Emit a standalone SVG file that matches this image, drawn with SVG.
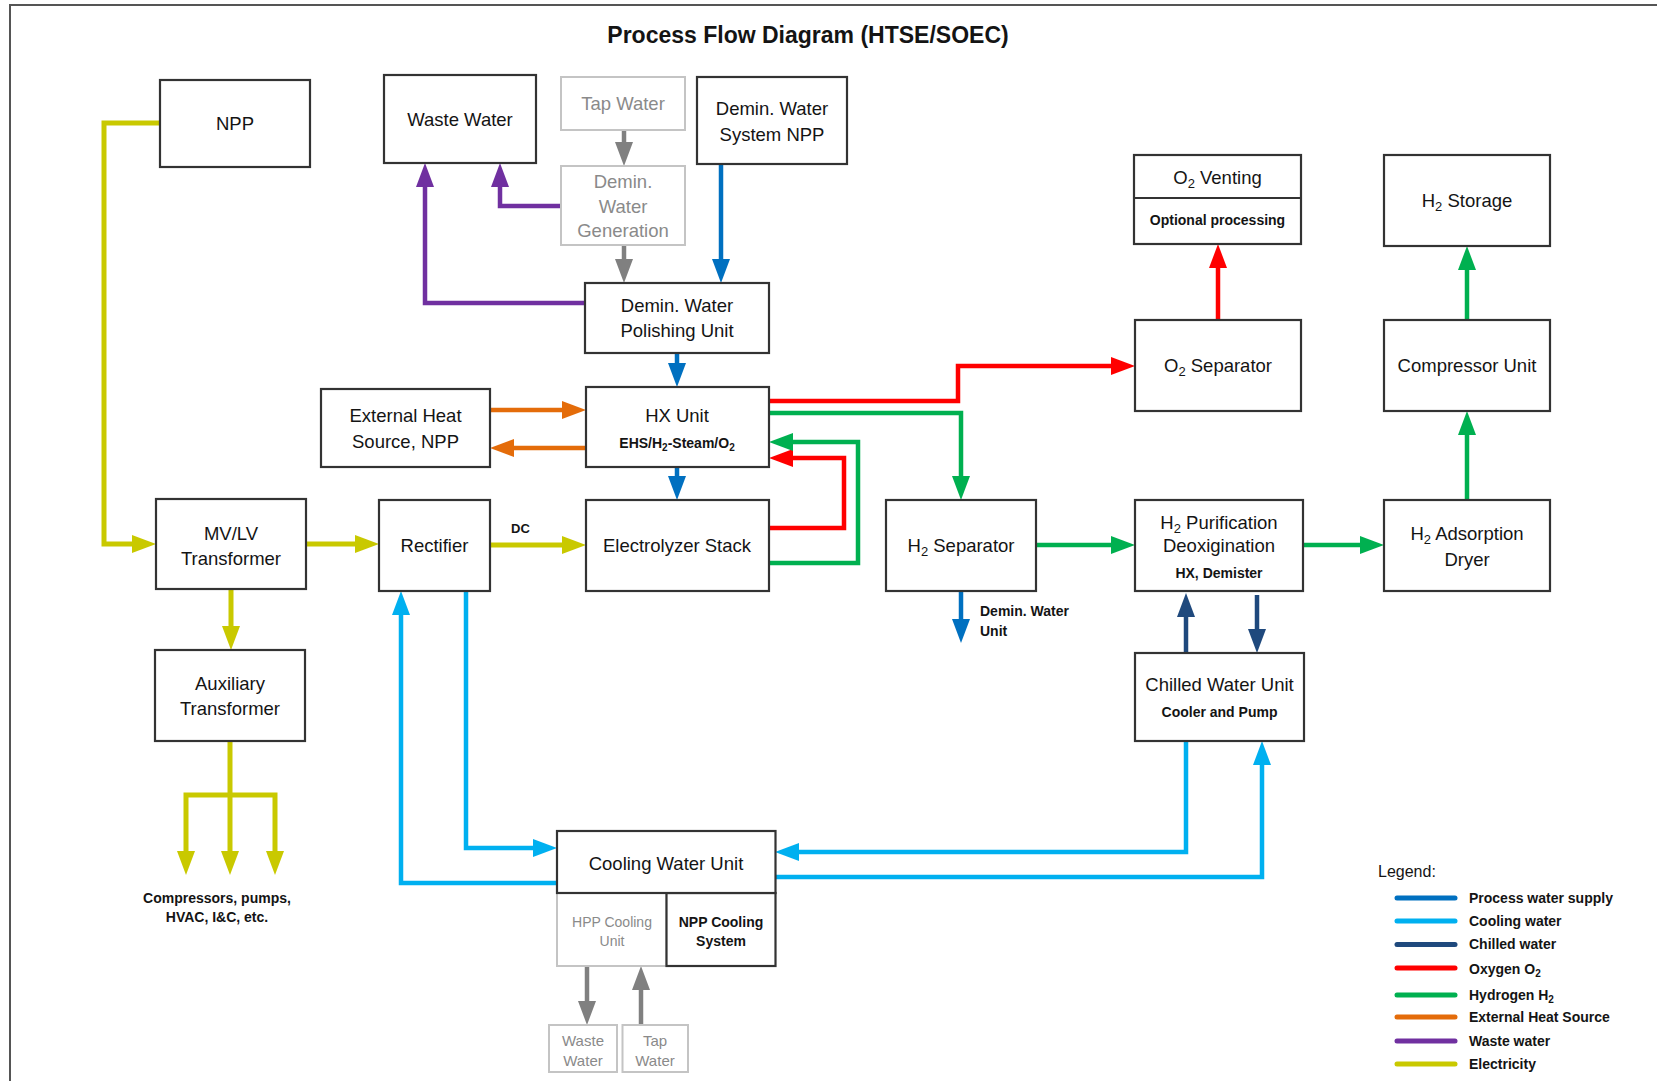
<svg xmlns="http://www.w3.org/2000/svg" width="1657" height="1081" viewBox="0 0 1657 1081">
  <style>
    text { font-family: "Liberation Sans", Arial, sans-serif; fill: #141414; }
    .lbl { font-size: 18.5px; text-anchor: middle; }
    .sm { font-size: 14px; font-weight: bold; text-anchor: middle; }
    .note { font-size: 14px; font-weight: bold; }
    .grey { fill: #8a8a8a; }
    .box { fill: #fff; stroke: #333; stroke-width: 2.2; }
    .gbox { fill: #fff; stroke: #c4c4c4; stroke-width: 2; }
    .ln { fill: none; stroke-width: 4.5; stroke-linejoin: miter; }
    .pw { stroke: #0070C0; }
    .cw { stroke: #00B0F0; }
    .ch { stroke: #1F497D; }
    .ox { stroke: #FF0000; }
    .hy { stroke: #00B050; }
    .eh { stroke: #E46C0A; }
    .ww { stroke: #7030A0; }
    .el { stroke: #C9C900; stroke-width: 5; }
    .gy { stroke: #808080; }
    .leg { stroke-width: 5; stroke-linecap: round; }
  </style>
  <defs>
    <marker id="aPw" markerUnits="userSpaceOnUse" markerWidth="24" markerHeight="18" viewBox="0 0 24 18" refX="1" refY="9" orient="auto"><path d="M0,0 L24,9 L0,18 Z" fill="#0070C0"/></marker>
    <marker id="aCw" markerUnits="userSpaceOnUse" markerWidth="24" markerHeight="18" viewBox="0 0 24 18" refX="1" refY="9" orient="auto"><path d="M0,0 L24,9 L0,18 Z" fill="#00B0F0"/></marker>
    <marker id="aCh" markerUnits="userSpaceOnUse" markerWidth="24" markerHeight="18" viewBox="0 0 24 18" refX="1" refY="9" orient="auto"><path d="M0,0 L24,9 L0,18 Z" fill="#1F497D"/></marker>
    <marker id="aOx" markerUnits="userSpaceOnUse" markerWidth="24" markerHeight="18" viewBox="0 0 24 18" refX="1" refY="9" orient="auto"><path d="M0,0 L24,9 L0,18 Z" fill="#FF0000"/></marker>
    <marker id="aHy" markerUnits="userSpaceOnUse" markerWidth="24" markerHeight="18" viewBox="0 0 24 18" refX="1" refY="9" orient="auto"><path d="M0,0 L24,9 L0,18 Z" fill="#00B050"/></marker>
    <marker id="aEh" markerUnits="userSpaceOnUse" markerWidth="24" markerHeight="18" viewBox="0 0 24 18" refX="1" refY="9" orient="auto"><path d="M0,0 L24,9 L0,18 Z" fill="#E46C0A"/></marker>
    <marker id="aWw" markerUnits="userSpaceOnUse" markerWidth="24" markerHeight="18" viewBox="0 0 24 18" refX="1" refY="9" orient="auto"><path d="M0,0 L24,9 L0,18 Z" fill="#7030A0"/></marker>
    <marker id="aEl" markerUnits="userSpaceOnUse" markerWidth="24" markerHeight="18" viewBox="0 0 24 18" refX="1" refY="9" orient="auto"><path d="M0,0 L24,9 L0,18 Z" fill="#C9C900"/></marker>
    <marker id="aGy" markerUnits="userSpaceOnUse" markerWidth="24" markerHeight="18" viewBox="0 0 24 18" refX="1" refY="9" orient="auto"><path d="M0,0 L24,9 L0,18 Z" fill="#808080"/></marker>
  </defs>

  <rect width="1657" height="1081" fill="#fff"/>
  <!-- sheet frame -->
  <path d="M10,1081 V5 H1657" fill="none" stroke="#555" stroke-width="2"/>

  <text x="808" y="43" style="font-size:23px;font-weight:bold;text-anchor:middle">Process Flow Diagram (HTSE/SOEC)</text>

  <!-- connectors -->
  <g id="connectors">
    <!-- waste water -->
    <path class="ln ww" d="M586,303 H425 V186" marker-end="url(#aWw)"/>
    <path class="ln ww" d="M561,206 H500 V186" marker-end="url(#aWw)"/>
    <!-- tap water feed -->
    <path class="ln gy" d="M624,130 V143" marker-end="url(#aGy)"/>
    <path class="ln gy" d="M624,245 V260" marker-end="url(#aGy)"/>
    <path class="ln gy" d="M587,966 V1002" marker-end="url(#aGy)"/>
    <path class="ln gy" d="M641,1025 V989" marker-end="url(#aGy)"/>
    <!-- process water -->
    <path class="ln pw" d="M721,164 V260" marker-end="url(#aPw)"/>
    <path class="ln pw" d="M677,353 V364" marker-end="url(#aPw)"/>
    <path class="ln pw" d="M677,467 V477" marker-end="url(#aPw)"/>
    <path class="ln pw" d="M961,591 V620" marker-end="url(#aPw)"/>
    <!-- external heat -->
    <path class="ln eh" d="M490,410 H563" marker-end="url(#aEh)"/>
    <path class="ln eh" d="M586,448 H513" marker-end="url(#aEh)"/>
    <!-- oxygen -->
    <path class="ln ox" d="M769,401 H958 V366 H1112" marker-end="url(#aOx)"/>
    <path class="ln ox" d="M769,528 H844 V458 H792" marker-end="url(#aOx)"/>
    <path class="ln ox" d="M1218,320 V267" marker-end="url(#aOx)"/>
    <!-- hydrogen -->
    <path class="ln hy" d="M769,413 H961 V477" marker-end="url(#aHy)"/>
    <path class="ln hy" d="M769,563 H858 V442 H792" marker-end="url(#aHy)"/>
    <path class="ln hy" d="M1036,545 H1112" marker-end="url(#aHy)"/>
    <path class="ln hy" d="M1303,545 H1361" marker-end="url(#aHy)"/>
    <path class="ln hy" d="M1467,500 V434" marker-end="url(#aHy)"/>
    <path class="ln hy" d="M1467,320 V269" marker-end="url(#aHy)"/>
    <!-- electricity -->
    <path class="ln el" d="M160,123 H104 V544 H133" marker-end="url(#aEl)"/>
    <path class="ln el" d="M306,544 H356" marker-end="url(#aEl)"/>
    <path class="ln el" d="M490,545 H563" marker-end="url(#aEl)"/>
    <path class="ln el" d="M231,589 V627" marker-end="url(#aEl)"/>
    <path class="ln el" d="M230,741 V852" marker-end="url(#aEl)"/>
    <path class="ln el" d="M230,795 H186 V852" marker-end="url(#aEl)"/>
    <path class="ln el" d="M230,795 H275 V852" marker-end="url(#aEl)"/>
    <!-- chilled water -->
    <path class="ln ch" d="M1186,653 V616" marker-end="url(#aCh)"/>
    <path class="ln ch" d="M1257,595 V630" marker-end="url(#aCh)"/>
    <!-- cooling water -->
    <path class="ln cw" d="M466,591 V848 H534" marker-end="url(#aCw)"/>
    <path class="ln cw" d="M557,883 H401 V614" marker-end="url(#aCw)"/>
    <path class="ln cw" d="M1186,741 V852 H798" marker-end="url(#aCw)"/>
    <path class="ln cw" d="M775,877 H1262 V764" marker-end="url(#aCw)"/>
  </g>

  <g id="npp">
    <rect class="box" x="160" y="80" width="150" height="87"/>
    <text class="lbl" x="235" y="129.5">NPP</text>
  </g>
  <g id="waste-water">
    <rect class="box" x="384" y="75" width="152" height="88"/>
    <text class="lbl" x="460" y="126">Waste Water</text>
  </g>
  <g id="tap-water">
    <rect class="gbox" x="561" y="77" width="124" height="53"/>
    <text class="lbl grey" x="623" y="109.5">Tap Water</text>
  </g>
  <g id="demin-generation">
    <rect class="gbox" x="561" y="166" width="124" height="79"/>
    <text class="lbl grey" x="623" y="188">Demin.</text>
    <text class="lbl grey" x="623" y="212.5">Water</text>
    <text class="lbl grey" x="623" y="237">Generation</text>
  </g>
  <g id="demin-system-npp">
    <rect class="box" x="697" y="77" width="150" height="87"/>
    <text class="lbl" x="772" y="114.5">Demin. Water</text>
    <text class="lbl" x="772" y="141">System NPP</text>
  </g>
  <g id="polishing-unit">
    <rect class="box" x="585" y="283" width="184" height="70"/>
    <text class="lbl" x="677" y="311.5">Demin. Water</text>
    <text class="lbl" x="677" y="336.5">Polishing Unit</text>
  </g>
  <g id="hx-unit">
    <rect class="box" x="586" y="387" width="183" height="80"/>
    <text class="lbl" x="677" y="421.5">HX Unit</text>
    <text class="sm" x="677" y="448">EHS/H<tspan font-size="10" dy="3">2</tspan><tspan dy="-3">-Steam/O</tspan><tspan font-size="10" dy="3">2</tspan></text>
  </g>
  <g id="electrolyzer-stack">
    <rect class="box" x="586" y="500" width="183" height="91"/>
    <text class="lbl" x="677" y="551.5">Electrolyzer Stack</text>
  </g>
  <g id="external-heat-source">
    <rect class="box" x="321" y="389" width="169" height="78"/>
    <text class="lbl" x="405.5" y="421.5">External Heat</text>
    <text class="lbl" x="405.5" y="447.5">Source, NPP</text>
  </g>
  <g id="mv-lv-transformer">
    <rect class="box" x="156" y="499" width="150" height="90"/>
    <text class="lbl" x="231" y="539.5">MV/LV</text>
    <text class="lbl" x="231" y="564.5">Transformer</text>
  </g>
  <g id="rectifier">
    <rect class="box" x="379" y="500" width="111" height="91"/>
    <text class="lbl" x="434.5" y="551.5">Rectifier</text>
    <text class="note" x="511" y="533" style="font-size:13px">DC</text>
  </g>
  <g id="auxiliary-transformer">
    <rect class="box" x="155" y="650" width="150" height="91"/>
    <text class="lbl" x="230" y="689.5">Auxiliary</text>
    <text class="lbl" x="230" y="714.5">Transformer</text>
    <text class="sm" x="217" y="903">Compressors, pumps,</text>
    <text class="sm" x="217" y="922">HVAC, I&amp;C, etc.</text>
  </g>
  <g id="h2-separator">
    <rect class="box" x="886" y="500" width="150" height="91"/>
    <text class="lbl" x="961" y="551.5">H<tspan font-size="13" dy="4">2</tspan><tspan dy="-4"> Separator</tspan></text>
    <text class="note" x="980" y="616">Demin. Water</text>
    <text class="note" x="980" y="636">Unit</text>
  </g>
  <g id="o2-venting">
    <rect class="box" x="1134" y="155" width="167" height="89"/>
    <line x1="1134" y1="198" x2="1301" y2="198" stroke="#333" stroke-width="2.2"/>
    <text class="lbl" x="1217.5" y="183.5">O<tspan font-size="13" dy="4">2</tspan><tspan dy="-4"> Venting</tspan></text>
    <text class="sm" x="1217.5" y="225">Optional processing</text>
  </g>
  <g id="o2-separator">
    <rect class="box" x="1135" y="320" width="166" height="91"/>
    <text class="lbl" x="1218" y="371.5">O<tspan font-size="13" dy="4">2</tspan><tspan dy="-4"> Separator</tspan></text>
  </g>
  <g id="h2-storage">
    <rect class="box" x="1384" y="155" width="166" height="91"/>
    <text class="lbl" x="1467" y="206.5">H<tspan font-size="13" dy="4">2</tspan><tspan dy="-4"> Storage</tspan></text>
  </g>
  <g id="compressor-unit">
    <rect class="box" x="1384" y="320" width="166" height="91"/>
    <text class="lbl" x="1467" y="371.5">Compressor Unit</text>
  </g>
  <g id="h2-purification">
    <rect class="box" x="1135" y="500" width="168" height="91"/>
    <text class="lbl" x="1219" y="528.5">H<tspan font-size="13" dy="4">2</tspan><tspan dy="-4"> Purification</tspan></text>
    <text class="lbl" x="1219" y="551.5">Deoxigination</text>
    <text class="sm" x="1219" y="578">HX, Demister</text>
  </g>
  <g id="h2-adsorption-dryer">
    <rect class="box" x="1384" y="500" width="166" height="91"/>
    <text class="lbl" x="1467" y="539.5">H<tspan font-size="13" dy="4">2</tspan><tspan dy="-4"> Adsorption</tspan></text>
    <text class="lbl" x="1467" y="565.5">Dryer</text>
  </g>
  <g id="chilled-water-unit">
    <rect class="box" x="1135" y="653" width="169" height="88"/>
    <text class="lbl" x="1219.5" y="690.5">Chilled Water Unit</text>
    <text class="sm" x="1219.5" y="717">Cooler and Pump</text>
  </g>
  <g id="cooling-water-unit">
    <rect class="gbox" x="557" y="893" width="109.5" height="73"/>
    <text class="grey" x="612" y="927" style="font-size:14px;text-anchor:middle">HPP Cooling</text>
    <text class="grey" x="612" y="946" style="font-size:14px;text-anchor:middle">Unit</text>
    <rect class="box" x="666.5" y="893" width="109" height="73"/>
    <text class="sm" x="721" y="927">NPP Cooling</text>
    <text class="sm" x="721" y="946">System</text>
    <rect class="box" x="557" y="831" width="218.5" height="62"/>
    <text class="lbl" x="666" y="869.5">Cooling Water Unit</text>
  </g>
  <g id="cooling-waste-water">
    <rect class="gbox" x="549" y="1025" width="68" height="47"/>
    <text class="grey" x="583" y="1046" style="font-size:15px;text-anchor:middle">Waste</text>
    <text class="grey" x="583" y="1066" style="font-size:15px;text-anchor:middle">Water</text>
  </g>
  <g id="cooling-tap-water">
    <rect class="gbox" x="622.5" y="1025" width="65.5" height="47"/>
    <text class="grey" x="655" y="1046" style="font-size:15px;text-anchor:middle">Tap</text>
    <text class="grey" x="655" y="1066" style="font-size:15px;text-anchor:middle">Water</text>
  </g>

  <g id="legend">
    <text x="1378" y="877" style="font-size:16px">Legend:</text>
    <line class="leg pw" x1="1397" y1="898" x2="1455" y2="898"/>
    <line class="leg cw" x1="1397" y1="921" x2="1455" y2="921"/>
    <line class="leg ch" x1="1397" y1="944.5" x2="1455" y2="944.5"/>
    <line class="leg ox" x1="1397" y1="968" x2="1455" y2="968"/>
    <line class="leg hy" x1="1397" y1="995" x2="1455" y2="995"/>
    <line class="leg eh" x1="1397" y1="1017" x2="1455" y2="1017"/>
    <line class="leg ww" x1="1397" y1="1041" x2="1455" y2="1041"/>
    <line class="leg el" x1="1397" y1="1064" x2="1455" y2="1064"/>
    <text class="note" x="1469" y="903">Process water supply</text>
    <text class="note" x="1469" y="926">Cooling water</text>
    <text class="note" x="1469" y="949">Chilled water</text>
    <text class="note" x="1469" y="974">Oxygen O<tspan font-size="10" dy="3">2</tspan></text>
    <text class="note" x="1469" y="1000">Hydrogen H<tspan font-size="10" dy="3">2</tspan></text>
    <text class="note" x="1469" y="1022">External Heat Source</text>
    <text class="note" x="1469" y="1046">Waste water</text>
    <text class="note" x="1469" y="1069">Electricity</text>
  </g>
</svg>
